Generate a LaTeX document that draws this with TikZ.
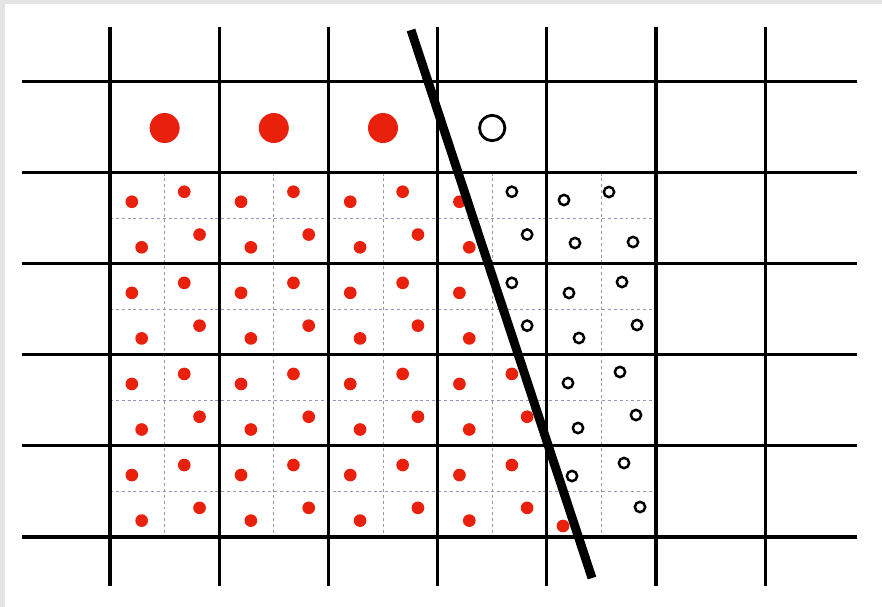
\documentclass[tikz,border=0pt]{standalone}
\usepackage{xcolor}
\usepackage{tikz}

\definecolor{framegray}{RGB}{228,228,228}
\definecolor{samplered}{RGB}{232,32,12}
\definecolor{subgray}{RGB}{150,150,185}

\begin{document}
\begin{tikzpicture}[x=0.03cm, y=-0.03cm,
  gridline/.style={line width=2.6pt},
  subline/.style={dash pattern=on 2.5pt off 2.5pt, line width=0.6pt, subgray},
  bigred/.style={fill=samplered},
  bigopen/.style={draw, line width=2.4pt},
  smallred/.style={fill=samplered},
  smallopen/.style={draw, line width=2.1pt}]

% frame
\fill[framegray] (0,0) rectangle (882,607);
\fill[white] (5,4) rectangle (882,607);

% dashed sub-pixel lines
\foreach \k in {0,...,3}
  \draw[subline] (110,{172.6+45.55+91.1*\k}) -- (656,{172.6+45.55+91.1*\k});
\foreach \i in {0,...,4}
  \draw[subline] ({110+54.6+109.2*\i},172.6) -- ({110+54.6+109.2*\i},537);

% pixel grid
\foreach \i in {0,...,6}
  \draw[gridline] ({110+109.2*\i},27) -- ({110+109.2*\i},586);
\foreach \j in {0,...,5}
  \draw[gridline] (22,{81.5+91.1*\j}) -- (857,{81.5+91.1*\j});

% edge
\coordinate (top) at (411,30);
\coordinate (bot) at (592,578);

% one sample per pixel
\foreach \i in {0,1,2}
  \fill[bigred] ({110+54.6+109.2*\i},128) circle (0.45cm);
\draw[bigopen] ({110+54.6+109.2*3},128) circle (0.38cm);

% four samples per pixel
\foreach \i in {0,...,3}
  \foreach \j in {0,...,3}
    \foreach \u/\v in {0.20/0.32,0.68/0.21,0.82/0.68,0.29/0.82} {
      \pgfmathsetmacro\px{110+109.2*(\i+\u)}
      \pgfmathsetmacro\py{172.6+91.1*(\j+\v)}
      \pgfmathtruncatemacro\isred{(0.3303*(\py-30)-(\px-411))>0 ? 1 : 0}
      \ifnum\isred=1
        \fill[smallred] (\px,\py) circle (0.19cm);
      \else
        \draw[smallopen] (\px,\py) circle (0.155cm);
      \fi
    }
% last column
\foreach \px/\py in {564/200,609/192,633/242,575/243,
                     569/293,622/282,637/325,579/338,
                     568/383,620/372,636/415,578/428,
                     572/476,624/463,640/507,563/526} {
  \pgfmathtruncatemacro\isred{(0.3303*(\py-30)-(\px-411))>0 ? 1 : 0}
  \ifnum\isred=1
    \fill[smallred] (\px,\py) circle (0.19cm);
  \else
    \draw[smallopen] (\px,\py) circle (0.155cm);
  \fi
}

\draw[line width=7.6pt] (top) -- (bot);

\end{tikzpicture}
\end{document}
